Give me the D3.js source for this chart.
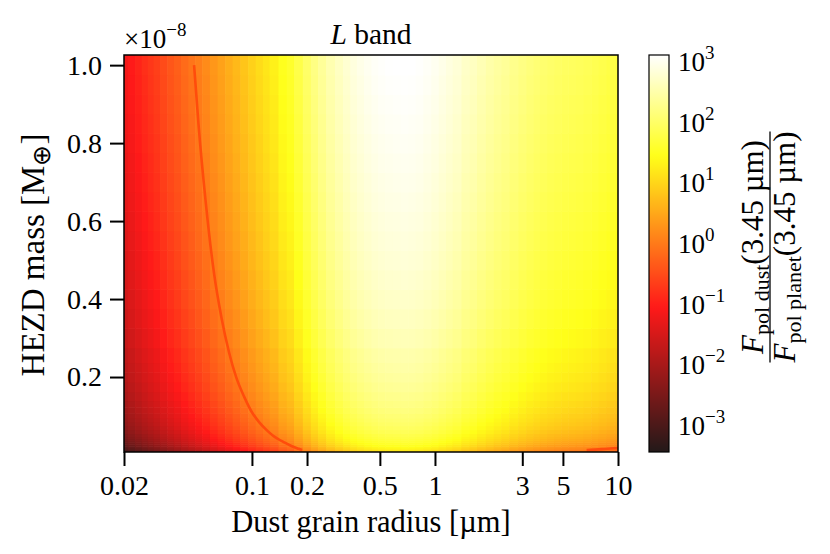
<!DOCTYPE html>
<html>
<head>
<meta charset="utf-8">
<script src="https://cdn.jsdelivr.net/npm/d3@7"></script>
<style>
  body { margin: 0; background: #fff; }
  svg { display: block; }
  text { font-family: "Liberation Serif", "Times New Roman", serif; fill: #000; }
</style>
</head>
<body>
<script>
//Width and height
var w = 830;
var h = 554;
var plot = { left: 124, right: 618, top: 55, bottom: 452 };
var cbar = { left: 649, width: 20 };

// dust grain radius [um], column centres of the grid
var radii = [
  0.020, 0.022, 0.024, 0.026, 0.028, 0.030, 0.033, 0.036, 0.039, 0.043,
  0.047, 0.051, 0.056, 0.062, 0.068, 0.075, 0.082, 0.091, 0.10, 0.11,
  0.12, 0.13, 0.15, 0.16, 0.18, 0.20, 0.22, 0.24, 0.27, 0.30,
  0.33, 0.36, 0.39, 0.43, 0.47, 0.51, 0.56, 0.62, 0.68, 0.75,
  0.82, 0.91, 1.0, 1.1, 1.2, 1.3, 1.5, 1.6, 1.8, 2.0,
  2.2, 2.4, 2.7, 3.0, 3.3, 3.6, 3.9, 4.3, 4.7, 5.1,
  5.6, 6.2, 6.8, 7.5, 8.2, 9.1, 10,
];

// log10 of F_pol,dust / F_pol,planet at the top row (1e-8 M_earth), per radius
var logRatioTop = [
  -1.15, -1.03, -0.92, -0.81, -0.72, -0.63, -0.50, -0.38, -0.28, -0.15,
  -0.04, 0.07, 0.19, 0.33, 0.45, 0.58, 0.70, 0.83, 0.96, 1.08,
  1.19, 1.30, 1.49, 1.59, 1.80, 2.02, 2.22, 2.38, 2.55, 2.68,
  2.79, 2.88, 2.95, 3.01, 3.06, 3.09, 3.11, 3.12, 3.13, 3.12,
  3.10, 3.06, 3.01, 2.95, 2.89, 2.83, 2.72, 2.67, 2.58, 2.50,
  2.43, 2.37, 2.29, 2.22, 2.16, 2.11, 2.07, 2.03, 2.00, 1.97,
  1.95, 1.93, 1.90, 1.86, 1.82, 1.78, 1.75,
];

// HEZD mass [1e-8 M_earth], row centres of the grid (dust flux scales with mass)
var masses = [
  0.0125, 0.016, 0.02, 0.025, 0.03, 0.035, 0.04, 0.045, 0.05, 0.06,
  0.07, 0.08, 0.09, 0.1, 0.115, 0.13, 0.15, 0.175, 0.2, 0.225,
  0.25, 0.3, 0.35, 0.4, 0.45, 0.5, 0.55, 0.6, 0.65, 0.7,
  0.75, 0.8, 0.85, 0.9, 0.95, 1.0,
];

var xTicks = [0.02, 0.1, 0.2, 0.5, 1, 3, 5, 10];
var yTicks = [0.2, 0.4, 0.6, 0.8, 1.0];
var cbTicks = [-3, -2, -1, 0, 1, 2, 3];
var contourLevel = 1; // ratio of 1

var serif = '"Liberation Serif", "Times New Roman", serif';

var xScale = d3.scaleLog().domain([0.02, 10]).range([plot.left, plot.right]);
var yScale = d3.scaleLinear().domain([0.0077, 1.026]).range([plot.bottom, plot.top]);
var logNorm = d3.scaleLinear().domain([-3.43, 3.12]).range([0, 1]).clamp(true);
var cbScale = d3.scaleLinear().domain(logNorm.domain()).range([plot.bottom, plot.top]);

// matplotlib "hot", drawn slightly transparent over white
function hot(t) {
  var r = Math.min(1, 0.0416 + (1 - 0.0416) * t / 0.365079);
  var g = Math.max(0, Math.min(1, (t - 0.365079) / (0.746032 - 0.365079)));
  var b = Math.max(0, Math.min(1, (t - 0.746032) / (1 - 0.746032)));
  var a = 0.9;
  return d3.rgb(
    255 * (a * r + 1 - a),
    255 * (a * g + 1 - a),
    255 * (a * b + 1 - a)
  ).formatHex();
}
function color(logv) {
  return hot(logNorm(logv));
}

//Create SVG element
var svg = d3.select("body").append("svg").attr("width", w).attr("height", h);

svg.append("defs").append("clipPath").attr("id", "plotclip")
  .append("rect")
  .attr("x", plot.left).attr("y", plot.top)
  .attr("width", plot.right - plot.left).attr("height", plot.bottom - plot.top);

// cell edges: geometric midpoints in radius, arithmetic midpoints in mass
var xEdges = radii.map(function (r, i) {
  if (i === 0) return r * r / Math.sqrt(r * radii[1]);
  return Math.sqrt(r * radii[i - 1]);
});
xEdges.push(radii[radii.length - 1] * Math.sqrt(radii[radii.length - 1] / radii[radii.length - 2]));
var yEdges = masses.map(function (m, j) {
  if (j === 0) return yScale.domain()[0];
  return (m + masses[j - 1]) / 2;
});
yEdges.push(yScale.domain()[1]);

var cells = [];
radii.forEach(function (r, i) {
  masses.forEach(function (m, j) {
    cells.push({ i: i, j: j, v: logRatioTop[i] + Math.log10(m) });
  });
});

//Create heat map
svg.append("g")
  .attr("clip-path", "url(#plotclip)")
  .selectAll("rect")
  .data(cells)
  .enter()
  .append("rect")
  .attr("x", function (d) { return xScale(xEdges[d.i]); })
  .attr("y", function (d) { return yScale(yEdges[d.j + 1]); })
  .attr("width", function (d) { return xScale(xEdges[d.i + 1]) - xScale(xEdges[d.i]) + 0.6; })
  .attr("height", function (d) { return yScale(yEdges[d.j]) - yScale(yEdges[d.j + 1]) + 0.6; })
  .attr("fill", function (d) { return color(d.v); });

// contour at ratio = 1 (linear interpolation between cell centres)
function colVal(i, j) {
  return Math.pow(10, logRatioTop[i]) * masses[j];
}
var nTop = masses.length - 1;
var segments = [];
var seg = null;
radii.forEach(function (r, i) {
  var lo = colVal(i, 0), hi = colVal(i, nTop);
  var crosses = lo < contourLevel && hi >= contourLevel;
  if (crosses) {
    if (!seg) {
      seg = [];
      if (i > 0) {
        // entering through the bottom or top row
        var row = colVal(i - 1, 0) >= contourLevel ? 0 : nTop;
        var v0 = colVal(i - 1, row), v1 = colVal(i, row);
        var f = (contourLevel - v0) / (v1 - v0);
        var px = xScale(radii[i - 1]) + f * (xScale(r) - xScale(radii[i - 1]));
        seg.push([px, yScale(masses[row])]);
      }
    }
    var j = 0;
    while (colVal(i, j + 1) < contourLevel) j++;
    var a = colVal(i, j), b = colVal(i, j + 1);
    var m = masses[j] + (contourLevel - a) / (b - a) * (masses[j + 1] - masses[j]);
    seg.push([xScale(r), yScale(m)]);
  } else if (seg) {
    var rowE = lo >= contourLevel ? 0 : nTop;
    var e0 = colVal(i - 1, rowE), e1 = colVal(i, rowE);
    var fe = (contourLevel - e0) / (e1 - e0);
    var pxe = xScale(radii[i - 1]) + fe * (xScale(r) - xScale(radii[i - 1]));
    seg.push([pxe, yScale(masses[rowE])]);
    segments.push(seg);
    seg = null;
  }
});
if (seg) segments.push(seg);

var line = d3.line().curve(d3.curveMonotoneX);
svg.append("g")
  .attr("clip-path", "url(#plotclip)")
  .selectAll("path")
  .data(segments)
  .enter()
  .append("path")
  .attr("d", line)
  .attr("fill", "none")
  .attr("stroke", "#ff4c0c")
  .attr("stroke-width", 2.6);

// frame
svg.append("rect")
  .attr("x", plot.left).attr("y", plot.top)
  .attr("width", plot.right - plot.left).attr("height", plot.bottom - plot.top)
  .attr("fill", "none").attr("stroke", "#000").attr("stroke-width", 1.5);

//Axes
var xAxis = svg.append("g")
  .attr("transform", "translate(0," + plot.bottom + ")")
  .call(d3.axisBottom(xScale).tickValues(xTicks)
    .tickFormat(function (d) { return String(d); })
    .tickSize(14).tickSizeOuter(0).tickPadding(9));
var yAxis = svg.append("g")
  .attr("transform", "translate(" + plot.left + ",0)")
  .call(d3.axisLeft(yScale).tickValues(yTicks)
    .tickFormat(d3.format(".1f"))
    .tickSize(14).tickSizeOuter(0).tickPadding(8));
[xAxis, yAxis].forEach(function (ax) {
  ax.attr("font-family", null).attr("font-size", null);
  ax.select(".domain").remove();
  ax.selectAll(".tick line").attr("stroke", "#000").attr("stroke-width", 2);
  ax.selectAll(".tick text")
    .style("font-family", serif)
    .style("font-size", "28px");
});

// axis labels and title
svg.append("text")
  .attr("x", (plot.left + plot.right) / 2).attr("y", 532)
  .attr("text-anchor", "middle").style("font-size", "30.5px")
  .text("Dust grain radius [\u00b5m]");

var yl = svg.append("text")
  .attr("transform", "translate(44," + 255 + ") rotate(-90)")
  .attr("text-anchor", "middle").style("font-size", "33px");
yl.append("tspan").text("HEZD mass [M");
yl.append("tspan").style("font-size", "25px").attr("dy", 6).text("\u2295");
yl.append("tspan").attr("dy", -6).text("]");

var title = svg.append("text")
  .attr("x", (plot.left + plot.right) / 2).attr("y", 44)
  .attr("text-anchor", "middle").style("font-size", "29.5px");
title.append("tspan").style("font-style", "italic").text("L");
title.append("tspan").text(" band");

var off = svg.append("text")
  .attr("x", plot.left).attr("y", 48).style("font-size", "27px");
off.append("tspan").text("\u00d710");
off.append("tspan").style("font-size", "19px").attr("dy", -12).text("\u22128");

//Colorbar
var grad = svg.select("defs").append("linearGradient")
  .attr("id", "cbgrad")
  .attr("x1", 0).attr("y1", 1).attr("x2", 0).attr("y2", 0);
grad.selectAll("stop")
  .data(d3.range(0, 1.0001, 1 / 64))
  .enter()
  .append("stop")
  .attr("offset", function (t) { return t; })
  .attr("stop-color", function (t) { return hot(t); });

svg.append("rect")
  .attr("x", cbar.left).attr("y", plot.top)
  .attr("width", cbar.width).attr("height", plot.bottom - plot.top)
  .attr("fill", "url(#cbgrad)")
  .attr("stroke", "#000").attr("stroke-width", 1.2);

var cbLabels = svg.append("g").selectAll("text")
  .data(cbTicks)
  .enter()
  .append("text")
  .attr("x", cbar.left + cbar.width + 9)
  .attr("y", function (d) { return cbScale(d) + 9; })
  .style("font-size", "27px");
cbLabels.append("tspan").text("10");
cbLabels.append("tspan")
  .style("font-size", "19px").attr("dy", -12)
  .text(function (d) { return d < 0 ? "\u2212" + Math.abs(d) : String(d); });

// colorbar label: F_pol dust(3.45 um) / F_pol planet(3.45 um)
var cl = svg.append("g").attr("transform", "translate(763,247) rotate(-90)");
function fracPart(y, sub) {
  var t = cl.append("text").attr("x", 0).attr("y", y)
    .attr("text-anchor", "middle").style("font-size", "31px");
  t.append("tspan").style("font-style", "italic").text("F");
  t.append("tspan").style("font-size", "22px").attr("dy", 6).text(sub);
  t.append("tspan").attr("dy", -6).text("(3.45 \u00b5m)");
  return t;
}
fracPart(0, "pol dust");
var den = fracPart(32, "pol planet");
var denLen = den.node().getComputedTextLength();
cl.append("line")
  .attr("x1", -denLen / 2).attr("x2", denLen / 2)
  .attr("y1", 7).attr("y2", 7)
  .attr("stroke", "#000").attr("stroke-width", 1.3);
</script>
</body>
</html>
